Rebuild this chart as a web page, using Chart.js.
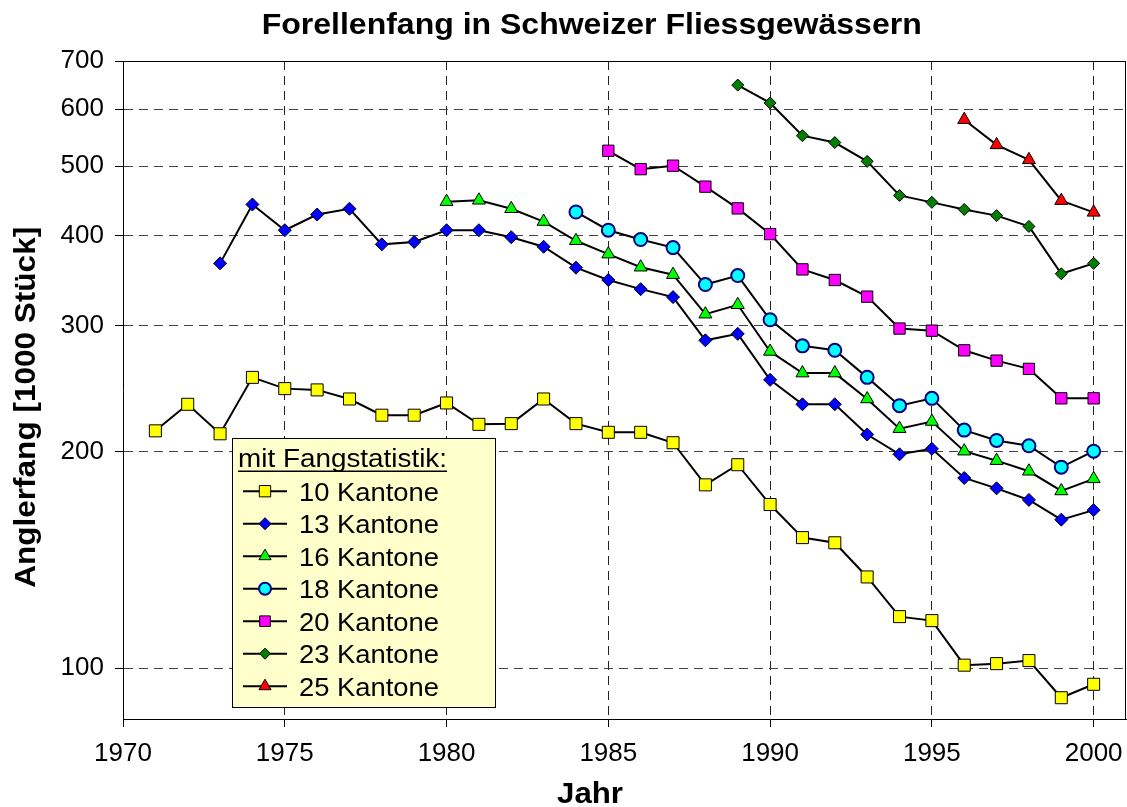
<!DOCTYPE html>
<html>
<head>
<meta charset="utf-8">
<script src="https://cdn.jsdelivr.net/npm/chart.js@4/dist/chart.umd.min.js"></script>
<style>
  html, body { margin: 0; padding: 0; background: #fff; overflow: hidden; }
  #wrap { width: 1127px; height: 807px; }
  canvas { display: block; }
</style>
</head>
<body>
<div id="wrap"><canvas id="chart" width="1127" height="807"></canvas></div>
<script>
// Jahre und Fangzahlen (1000 Stück)
const jahre = [1971, 1972, 1973, 1974, 1975, 1976, 1977, 1978, 1979, 1980,
  1981, 1982, 1983, 1984, 1985, 1986, 1987, 1988, 1989, 1990,
  1991, 1992, 1993, 1994, 1995, 1996, 1997, 1998, 1999, 2000];

const kant10 = [214, 233, 212, 254, 245, 244, 237, 225, 225, 234,
  218.5, 219, 237, 219, 213, 213, 206, 180, 192, 169,
  152, 149.5, 134, 118, 116.5, 101, 101.5, 102.5, 91, 95];
const kant13 = [null, null, 366, 442, 407, 428, 436, 389, 392, 407,
  407, 398, 386, 361, 347, 337, 328.5, 286, 292, 252,
  233, 233, 211.5, 198.5, 202, 184, 178, 171.5, 161, 166];
const kant16 = [null, null, null, null, null, null, null, null, null, 446,
  448, 436, 418.5, 393.5, 377, 361.5, 353, 311, 320.5, 276,
  257.5, 257.5, 237, 215.5, 220.5, 200.5, 194.5, 188, 176.5, 183.5];
const kant18 = [null, null, null, null, null, null, null, null, null, null,
  null, null, null, 431.5, 407, 395, 385, 342, 352, 305.5,
  281, 277, 254, 232, 237.5, 214.5, 207.5, 204, 190.5, 200.5];
const kant20 = [null, null, null, null, null, null, null, null, null, null,
  null, null, null, null, 525, 495, 500.5, 468, 436.5, 402,
  359, 347, 329, 297, 295, 277, 268, 261, 237.5, 237.5];
const kant23 = [null, null, null, null, null, null, null, null, null, null,
  null, null, null, null, null, null, null, null, 648, 612,
  551, 539, 507.5, 455, 445, 435, 426.5, 412, 354, 366];
const kant25 = [null, null, null, null, null, null, null, null, null, null,
  null, null, null, null, null, null, null, null, null, null,
  null, null, null, null, null, 580, 535, 510, 447.5, 431];

const xTicks = [1970, 1975, 1980, 1985, 1990, 1995, 2000];
const yTicks = [100, 200, 300, 400, 500, 600, 700];

const FONT = "'Liberation Sans', Arial, sans-serif";

/**
 * Serien: Name, Werte, Markierung
 */
const serien = [
  { label: '10 Kantone', werte: kant10, style: 'rect', r: 8.5, fill: '#FFFF00', line: '#000000', bw: 1 },
  { label: '13 Kantone', werte: kant13, style: 'rectRot', r: 6.5, fill: '#0000FF', line: '#000000', bw: 1 },
  { label: '16 Kantone', werte: kant16, style: 'triangle', r: 7.5, fill: '#00FF00', line: '#000000', bw: 1 },
  { label: '18 Kantone', werte: kant18, style: 'circle', r: 6.5, fill: '#00FFFF', line: '#000080', bw: 2 },
  { label: '20 Kantone', werte: kant20, style: 'rect', r: 8, fill: '#FF00FF', line: '#000000', bw: 1 },
  { label: '23 Kantone', werte: kant23, style: 'rectRot', r: 6, fill: '#007F00', line: '#000000', bw: 1 },
  { label: '25 Kantone', werte: kant25, style: 'triangle', r: 7.5, fill: '#FF0000', line: '#000000', bw: 1 }
];

const datasets = serien.map(s => ({
  label: s.label,
  data: jahre
    .map((j, i) => ({ x: j, y: s.werte[i] }))
    .filter(p => p.y !== null),
  borderColor: '#000000',
  borderWidth: 2,
  tension: 0,
  pointStyle: s.style,
  pointRadius: s.r,
  pointBackgroundColor: s.fill,
  pointBorderColor: s.line,
  pointBorderWidth: s.bw
}));

/**
 * Text auf eine Zielbreite strecken
 */
function fitText(ctx, text, x, y, breite, font, rot) {
  ctx.save();
  ctx.font = font;
  const w = ctx.measureText(text).width;
  ctx.translate(x, y);
  if (rot) ctx.rotate(rot);
  ctx.scale(breite / w, 1);
  ctx.fillText(text, 0, 0);
  ctx.restore();
}

/**
 * Titel, Achsentitel, Rahmen und Legende
 */
const extras = {
  id: 'extras',
  afterDraw(chart) {
    const ctx = chart.ctx;
    const a = chart.chartArea;

    // Rahmen oben und rechts
    ctx.save();
    ctx.strokeStyle = '#000';
    ctx.lineWidth = 1;
    ctx.beginPath();
    ctx.moveTo(a.left, Math.round(a.top) + 0.5);
    ctx.lineTo(a.right, Math.round(a.top) + 0.5);
    ctx.moveTo(Math.round(a.right) - 0.5, a.top);
    ctx.lineTo(Math.round(a.right) - 0.5, a.bottom);
    ctx.stroke();
    ctx.restore();

    ctx.save();
    ctx.fillStyle = '#000';
    ctx.textAlign = 'center';
    ctx.textBaseline = 'alphabetic';
    fitText(ctx, 'Forellenfang in Schweizer Fliessgewässern', 591.7, 33.5, 660, 'bold 30px ' + FONT);
    fitText(ctx, 'Jahr', 590, 803, 66, 'bold 30px ' + FONT);
    fitText(ctx, 'Anglerfang [1000 Stück]', 34.5, 407.3, 361, 'bold 30px ' + FONT, -Math.PI / 2);
    ctx.restore();

    // Legende
    const lx = 232.5, ly = 438.5, lw = 263, lh = 269;
    ctx.save();
    ctx.fillStyle = '#FFFFCC';
    ctx.fillRect(lx, ly, lw, lh);
    ctx.strokeStyle = '#000';
    ctx.lineWidth = 1;
    ctx.strokeRect(lx, ly, lw, lh);

    ctx.fillStyle = '#000';
    ctx.textAlign = 'left';
    ctx.textBaseline = 'alphabetic';
    fitText(ctx, 'mit Fangstatistik:', 238, 466.5, 209, '25px ' + FONT);
    ctx.fillRect(238, 470.5, 209, 1.5);

    serien.forEach((s, i) => {
      const base = 500.7 + 32.5 * i;
      const my = base - 9.5;
      ctx.strokeStyle = '#000';
      ctx.lineWidth = 2;
      ctx.beginPath();
      ctx.moveTo(243, my);
      ctx.lineTo(287, my);
      ctx.stroke();
      ctx.fillStyle = s.fill;
      ctx.strokeStyle = s.line;
      ctx.lineWidth = s.bw;
      Chart.helpers.drawPoint(ctx, {
        pointStyle: s.style, radius: s.r - 0.5, rotation: 0, borderWidth: s.bw
      }, 265, my);
      ctx.fillStyle = '#000';
      fitText(ctx, s.label, 299, base, 140, '25px ' + FONT);
    });
    ctx.restore();
  }
};

new Chart(
  document.getElementById('chart'), {
    type: 'line',
    data: { datasets: datasets },
    plugins: [extras],
    options: {
      responsive: false,
      animation: false,
      events: [],
      layout: {
        autoPadding: false,
        padding: { top: 61, right: 1, left: 0, bottom: 0 }
      },
      plugins: {
        legend: { display: false },
        title: { display: false },
        tooltip: { enabled: false }
      },
      scales: {
        x: {
          type: 'linear',
          min: 1970,
          max: 2001,
          afterBuildTicks: scale => {
            scale.ticks = xTicks.map(v => ({ value: v }));
          },
          afterFit: scale => { scale.height = 88; },
          ticks: {
            color: '#000',
            // kleiner Abstand, damit rechts kein Rand entsteht;
            // die Zeilenhöhe schiebt die Beschriftung nach unten
            font: { family: FONT, size: 26, lineHeight: 1.815 },
            padding: 3,
            maxRotation: 0,
            autoSkip: false,
            callback: v => String(v)
          },
          grid: {
            color: '#222',
            tickColor: '#000',
            tickLength: 8,
            tickBorderDash: []
          },
          border: { display: true, color: '#000', width: 1, dash: [9, 6] }
        },
        y: {
          type: 'logarithmic',
          min: 85,
          max: 700,
          afterBuildTicks: scale => {
            scale.ticks = yTicks.map(v => ({ value: v }));
          },
          afterFit: scale => { scale.width = 123; },
          ticks: {
            color: '#000',
            font: { family: FONT, size: 26 },
            padding: 11,
            autoSkip: false,
            callback: v => String(v)
          },
          grid: {
            color: '#444',
            tickColor: '#000',
            tickLength: 8,
            tickBorderDash: []
          },
          border: { display: true, color: '#000', width: 1, dash: [9, 6] }
        }
      }
    }
  }
);
</script>
</body>
</html>
